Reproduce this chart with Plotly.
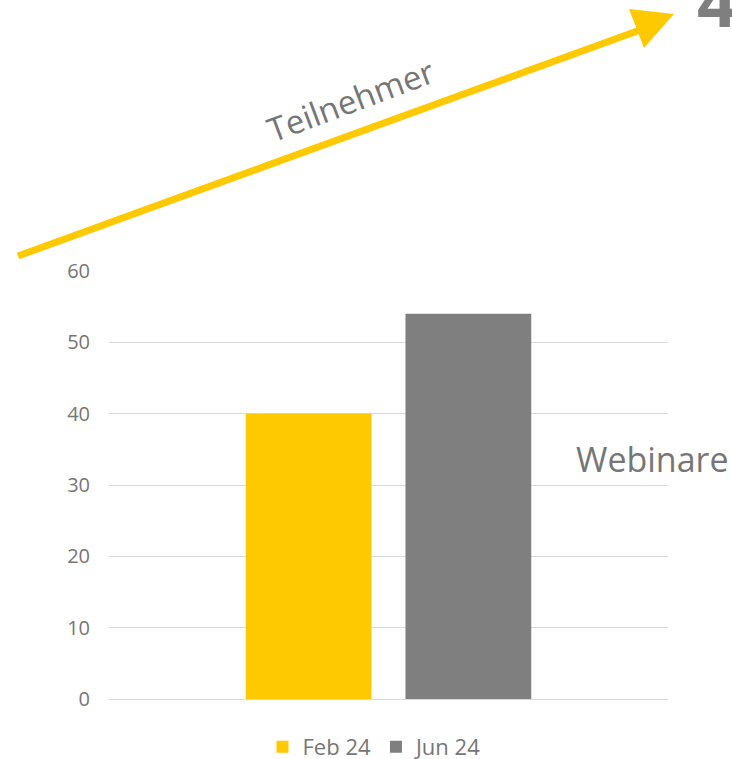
import plotly.graph_objects as go

categories = ["Webinare"]
series_names = ["Feb 24", "Jun 24"]
series_values = [[40], [54]]
series_colors = ["#FFC900", "#7F7F7F"]
y_ticks = [0, 10, 20, 30, 40, 50, 60]

W, H = 732, 759
L, R, T, B = 109, 64, 271, 60
PW, PH = W - L - R, H - T - B


def fx(x):
    """screen x (pixels) -> paper"""
    return (x - L) / PW


def fy(y):
    """screen y (pixels) -> paper"""
    return (H - B - y) / PH


fig = go.Figure()
for name, vals, col in zip(series_names, series_values, series_colors):
    fig.add_trace(go.Bar(x=categories, y=vals, name=name, marker_color=col,
                         marker_line_width=0))

font = "Open Sans, Noto Sans, sans-serif"
gray = "#767676"

shapes = [
    dict(type="line", xref="paper", yref="paper",
         x0=fx(18), y0=fy(256), x1=fx(640), y1=fy(30),
         line=dict(color="#FFC900", width=7)),
    dict(type="path", xref="paper", yref="paper",
         path=f"M {fx(629)} {fy(9)} L {fx(674)} {fy(14)} L {fx(644)} {fy(48)} Z",
         fillcolor="#FFC900", line=dict(color="#FFC900", width=0)),
]

annotations = [
    dict(text="Teilnehmer", xref="paper", yref="paper", x=fx(350), y=fy(100),
         xanchor="center", yanchor="middle", showarrow=False, textangle=-20.5,
         font=dict(family=font, size=33, color=gray)),
    dict(text=categories[0], xref="paper", yref="paper", x=fx(574), y=fy(459),
         xanchor="left", yanchor="middle", showarrow=False,
         font=dict(family=font, size=34, color=gray)),
    dict(text="<b>4</b>", xref="paper", yref="paper", x=fx(695), y=fy(50),
         xanchor="left", yanchor="bottom", showarrow=False,
         font=dict(family=font, size=70, color="#7F7F7F")),
]

fig.update_layout(
    width=W, height=H,
    margin=dict(l=L, r=R, t=T, b=B, autoexpand=False),
    paper_bgcolor="white", plot_bgcolor="white",
    barmode="group", bargap=0.4286, bargroupgap=0.2125,
    shapes=shapes, annotations=annotations,
    showlegend=True,
    legend=dict(orientation="h", x=fx(375), xanchor="center", y=fy(747),
                yanchor="middle", font=dict(family=font, size=22, color=gray),
                itemwidth=30, traceorder="normal"),
    xaxis=dict(showticklabels=False, showgrid=False, showline=False, zeroline=False,
               ticks=""),
    yaxis=dict(range=[0, 60], tickvals=y_ticks, showgrid=True, gridcolor="#D9D9D9",
               gridwidth=1, zeroline=True, zerolinecolor="#D9D9D9", zerolinewidth=1,
               showline=False, ticks="", ticklabelstandoff=18,
               tickfont=dict(family=font, size=20, color=gray)),
)

fig.write_html(
    "out.html",
    config={"displayModeBar": False},
    post_script="document.body.style.margin='0';document.body.style.overflow='hidden';",
)
